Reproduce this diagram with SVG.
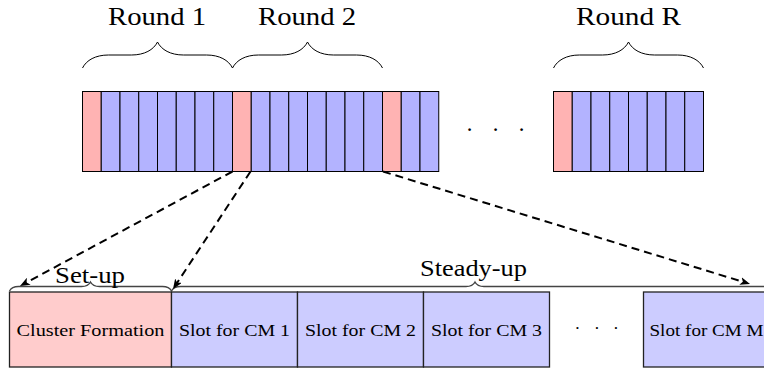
<svg xmlns="http://www.w3.org/2000/svg" width="764" height="371" viewBox="0 0 764 371">
<defs>
<style>
.p{fill:#ffb3b3;stroke:#000;stroke-width:1}
.b{fill:#b3b3ff;stroke:#000;stroke-width:1}
.P{fill:#ffcccc;stroke:#222;stroke-width:1.3}
.B{fill:#ccccff;stroke:#222;stroke-width:1.3}
.br{fill:none;stroke:#000;stroke-width:1}
.brs{fill:none;stroke:#444;stroke-width:1.3}
text{font-family:'Liberation Serif','Times New Roman',serif;fill:#000;text-anchor:middle}
.big{font-size:26px}
.mid{font-size:23px}
.sm{font-size:17.5px}
.arr{fill:none;stroke:#000;stroke-width:2;stroke-dasharray:8 5}
</style>
<marker id="ah" viewBox="0 0 10 8" refX="6" refY="4" markerWidth="10" markerHeight="8" markerUnits="userSpaceOnUse" orient="auto">
<path d="M10,4 L0,0 L2.5,4 L0,8 Z" fill="#000"/>
</marker>
</defs>
<rect width="764" height="371" fill="#fff"/>

<g id="round1">
<path class="br" d="M82.5,68 C86.4,60.2 95.5,55 108.5,55 L131.5,55 C144.5,55 153.6,49.8 157.5,42 C161.4,49.8 170.5,55 183.5,55 L206.5,55 C219.5,55 228.6,60.2 232.5,68"/>
<text class="big" x="157" y="25" textLength="98" lengthAdjust="spacingAndGlyphs">Round 1</text>
<rect class="p" x="82.5" y="91.5" width="18.75" height="80"/>
<rect class="b" x="101.25" y="91.5" width="18.75" height="80"/>
<rect class="b" x="120" y="91.5" width="18.75" height="80"/>
<rect class="b" x="138.75" y="91.5" width="18.75" height="80"/>
<rect class="b" x="157.5" y="91.5" width="18.75" height="80"/>
<rect class="b" x="176.25" y="91.5" width="18.75" height="80"/>
<rect class="b" x="195" y="91.5" width="18.75" height="80"/>
<rect class="b" x="213.75" y="91.5" width="18.75" height="80"/>
</g>

<g id="round2">
<path class="br" d="M232.5,68 C236.4,60.2 245.5,55 258.5,55 L281.5,55 C294.5,55 303.6,49.8 307.5,42 C311.4,49.8 320.5,55 333.5,55 L356.5,55 C369.5,55 378.6,60.2 382.5,68"/>
<text class="big" x="307" y="25" textLength="98" lengthAdjust="spacingAndGlyphs">Round 2</text>
<rect class="p" x="232.5" y="91.5" width="18.75" height="80"/>
<rect class="b" x="251.25" y="91.5" width="18.75" height="80"/>
<rect class="b" x="270" y="91.5" width="18.75" height="80"/>
<rect class="b" x="288.75" y="91.5" width="18.75" height="80"/>
<rect class="b" x="307.5" y="91.5" width="18.75" height="80"/>
<rect class="b" x="326.25" y="91.5" width="18.75" height="80"/>
<rect class="b" x="345" y="91.5" width="18.75" height="80"/>
<rect class="b" x="363.75" y="91.5" width="18.75" height="80"/>
</g>

<g id="round3">
<rect class="p" x="382.5" y="91.5" width="18.75" height="80"/>
<rect class="b" x="401.25" y="91.5" width="18.75" height="80"/>
<rect class="b" x="420" y="91.5" width="18.75" height="80"/>
</g>

<g id="dots-top">
<text class="mid" y="137"><tspan x="469.5">·</tspan><tspan x="495.5">·</tspan><tspan x="521.5">·</tspan></text>
</g>

<g id="roundR">
<path class="br" d="M553.5,68 C557.4,60.2 566.5,55 579.5,55 L602.5,55 C615.5,55 624.6,49.8 628.5,42 C632.4,49.8 641.5,55 654.5,55 L677.5,55 C690.5,55 699.6,60.2 703.5,68"/>
<text class="big" x="628.5" y="25" textLength="105" lengthAdjust="spacingAndGlyphs">Round R</text>
<rect class="p" x="553.5" y="91.5" width="18.75" height="80"/>
<rect class="b" x="572.25" y="91.5" width="18.75" height="80"/>
<rect class="b" x="591" y="91.5" width="18.75" height="80"/>
<rect class="b" x="609.75" y="91.5" width="18.75" height="80"/>
<rect class="b" x="628.5" y="91.5" width="18.75" height="80"/>
<rect class="b" x="647.25" y="91.5" width="18.75" height="80"/>
<rect class="b" x="666" y="91.5" width="18.75" height="80"/>
<rect class="b" x="684.75" y="91.5" width="18.75" height="80"/>
</g>

<g id="setup">
<path class="brs" d="M9.5,291 C10.85,288.3 13.5,286.5 18.5,286.5 L81.5,286.5 C86,286.5 89.15,284.7 90.5,282 C91.85,284.7 95,286.5 99.5,286.5 L162.5,286.5 C167,286.5 170.15,288.3 171.5,291"/>
<text class="mid" x="90" y="283" textLength="70" lengthAdjust="spacingAndGlyphs">Set-up</text>
</g>

<g id="steady">
<path class="brs" d="M171.5,291 C172.85,288.3 176,286.5 180.5,286.5 L466,286.5 C470.5,286.5 473.65,284.7 475,282 C476.35,284.7 479.5,286.5 484,286.5 L769.5,286.5 C774,286.5 777.15,288.3 778.5,291"/>
<text class="mid" x="473.5" y="276" textLength="107" lengthAdjust="spacingAndGlyphs">Steady-up</text>
</g>

<g id="cluster">
<rect class="P" x="9.5" y="292" width="162" height="75"/>
<text class="sm" x="90.5" y="336" textLength="148" lengthAdjust="spacingAndGlyphs">Cluster Formation</text>
</g>
<g id="cm1">
<rect class="B" x="171.5" y="292" width="126" height="75"/>
<text class="sm" x="234.5" y="336" textLength="111" lengthAdjust="spacingAndGlyphs">Slot for CM 1</text>
</g>
<g id="cm2">
<rect class="B" x="297.5" y="292" width="126" height="75"/>
<text class="sm" x="360.5" y="336" textLength="111" lengthAdjust="spacingAndGlyphs">Slot for CM 2</text>
</g>
<g id="cm3">
<rect class="B" x="423.5" y="292" width="126" height="75"/>
<text class="sm" x="486.5" y="336" textLength="111" lengthAdjust="spacingAndGlyphs">Slot for CM 3</text>
</g>
<g id="dots-bottom">
<text class="sm" y="334"><tspan x="577.5">·</tspan><tspan x="597">·</tspan><tspan x="616">·</tspan></text>
</g>
<g id="cmM">
<rect class="B" x="643.5" y="292" width="126" height="75"/>
<text class="sm" x="706.5" y="336" textLength="114" lengthAdjust="spacingAndGlyphs">Slot for CM M</text>
</g>

<g id="connectors">
<path class="arr" d="M232.5,171.5 L23.5,284.1" marker-end="url(#ah)"/>
<path class="arr" d="M250.5,171.5 L175.2,285.7" marker-end="url(#ah)"/>
<path class="arr" d="M383,171.5 L746.2,282.8" marker-end="url(#ah)"/>
</g>
</svg>
